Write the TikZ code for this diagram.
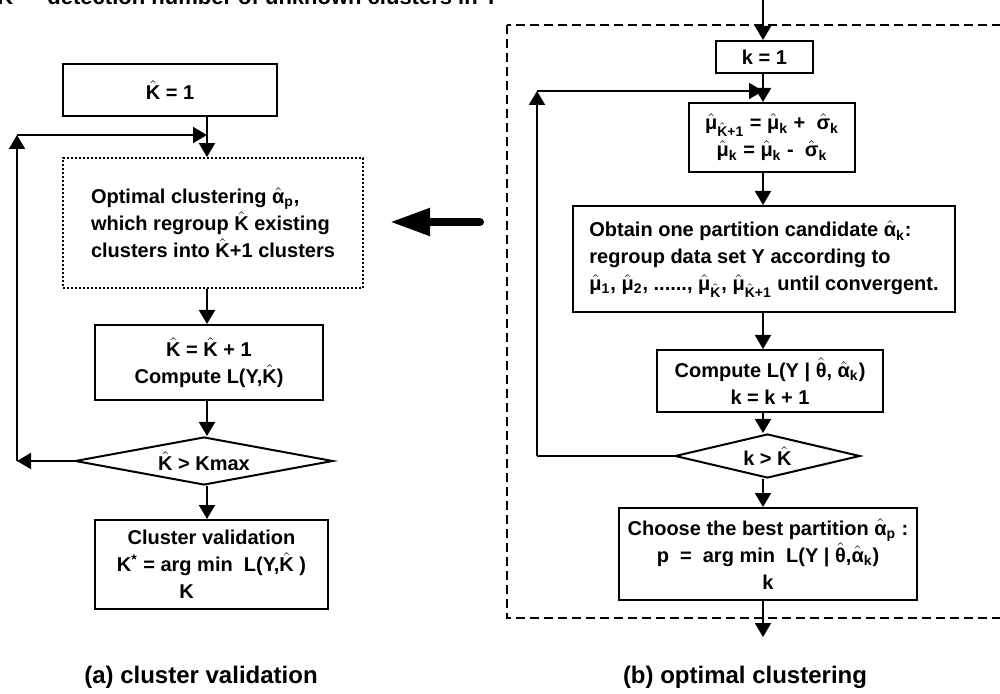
\documentclass[tikz,border=0pt]{standalone}
\usepackage{fontspec}
\setmainfont{Liberation Sans}
\usepackage{amsmath}
\usetikzlibrary{shapes.geometric,arrows.meta}
\newcommand{\hatx}[1]{\ensuremath{\hat{\text{#1}}}}
\newcommand{\lo}[1]{\ensuremath{_{\text{#1}}}}

\begin{document}
\begin{tikzpicture}[
  x=0.5pt, y=-0.5pt,
  every node/.style = {font=\fontsize{10}{13.5}\selectfont\bfseries, inner sep=0pt},
  box/.style = {draw, line width=1pt, align=center},
  dotbox/.style = {draw, line width=0.9pt, dash pattern=on 1pt off 1pt, align=left},
  test/.style = {draw, diamond, line width=1pt},
  flow/.style = {line width=1pt, -{Triangle[length=7pt, width=8pt]}},
  line/.style = {line width=1pt},
  dashframe/.style = {line width=0.9pt, dash pattern=on 4.5pt off 2.5pt},
  caption/.style = {font=\fontsize{12}{14}\selectfont\bfseries}
]
  \useasboundingbox (0,0) rectangle (1000,694);
  \node[anchor=base west, font=\fontsize{11}{13}\selectfont\bfseries] (head) at (-3,5)
    {\hatx{K} --- detection number of unknown clusters in Y};

  \coordinate (laxis) at (207,0);
  \node[box, minimum width=107pt, minimum height=26pt] (kone) at (170,90) {\hatx{K} = 1};
  \node[dotbox, minimum width=150pt, minimum height=65pt] (optim) at (213,223)
    {Optimal clustering \hatx{α}\lo{p},\\which regroup \hatx{K} existing\\clusters into \hatx{K}+1 clusters};
  \node[box, minimum width=114pt, minimum height=37.5pt] (upd) at (209,362.5)
    {\hatx{K} = \hatx{K} + 1\\Compute L(Y,\hatx{K})};
  \node[test, aspect=5, minimum width=129pt, minimum height=24pt] (ltest) at (204,461)
    {\hatx{K} > Kmax};
  \node[box, minimum width=116.5pt, minimum height=44.5pt] (valid) at (211.5,564.5)
    {Cluster validation\\K\textsuperscript{*} = arg min \ L(Y,\hatx{K} )\\K\hspace*{25pt}};

  \draw[flow] (kone.south -| laxis) -- (optim.north -| laxis);
  \draw[flow] (optim.south -| laxis) -- (upd.north -| laxis);
  \draw[flow] (upd.south -| laxis) -- (ltest.north -| laxis);
  \draw[flow] (ltest.south -| laxis) -- (valid.north -| laxis);
  \coordinate (lbot) at (17,461);
  \coordinate (ltop) at (17,135);
  \draw[flow] (ltest.west) -- (lbot);
  \draw[flow] (lbot) -- (ltop);
  \draw[flow] (ltop) -- (ltop -| laxis);

  \coordinate (bigtail) at (480,222);
  \coordinate (bighead) at (390,222);
  \draw[line width=4pt, line cap=round, -{Triangle[length=20pt, width=13pt]}] (bigtail) -- (bighead);

  \coordinate (raxis) at (763,0);
  \draw[dashframe] (507,25) rectangle (1015,618);
  \node[box, minimum width=48.5pt, minimum height=16pt] (kinit) at (764.5,57) {k = 1};
  \node[box, minimum width=83pt, minimum height=34.5pt] (musplit) at (772,137.5)
    {\hatx{μ}\lo{\hatx{K}+1} = \hatx{μ}\lo{k} + \ \hatx{σ}\lo{k}\\\hatx{μ}\lo{k} = \hatx{μ}\lo{k} - \ \hatx{σ}\lo{k}};
  \node[box, align=left, minimum width=191pt, minimum height=53pt] (obtain) at (764,259)
    {Obtain one partition candidate \hatx{α}\lo{k}:\\regroup data set Y according to\\\hatx{μ}\lo{1}, \hatx{μ}\lo{2}, ......, \hatx{μ}\lo{\hatx{K}}, \hatx{μ}\lo{\hatx{K}+1} until convergent.};
  \node[box, minimum width=113pt, minimum height=31pt] (compute) at (770,381)
    {Compute L(Y | \hatx{θ}, \hatx{α}\lo{k})\\k = k + 1};
  \node[test, aspect=4, minimum width=92.5pt, minimum height=22pt] (rtest) at (767.5,456)
    {k > \hatx{K}};
  \node[box, minimum width=149pt, minimum height=46pt] (choose) at (768,554)
    {Choose the best partition \hatx{α}\lo{p} :\\p \ = \ arg min \ L(Y | \hatx{θ},\hatx{α}\lo{k})\\k};

  \draw[flow] (raxis) -- (kinit.north -| raxis);
  \draw[flow] (kinit.south -| raxis) -- (musplit.north -| raxis);
  \draw[flow] (musplit.south -| raxis) -- (obtain.north -| raxis);
  \draw[flow] (obtain.south -| raxis) -- (compute.north -| raxis);
  \draw[flow] (compute.south -| raxis) -- (rtest.north -| raxis);
  \draw[flow] (rtest.south -| raxis) -- (choose.north -| raxis);
  \coordinate (rbot) at (537,456);
  \coordinate (rtop) at (537,91);
  \coordinate (rout) at (763,637);
  \draw[line] (rtest.west) -- (rbot);
  \draw[flow] (rbot) -- (rtop);
  \draw[flow] (rtop) -- (rtop -| raxis);
  \draw[flow] (choose.south -| raxis) -- (rout);

  \node[caption] (capa) at (201,677) {(a) cluster validation};
  \node[caption] (capb) at (745,677) {(b) optimal clustering};
\end{tikzpicture}
\end{document}
